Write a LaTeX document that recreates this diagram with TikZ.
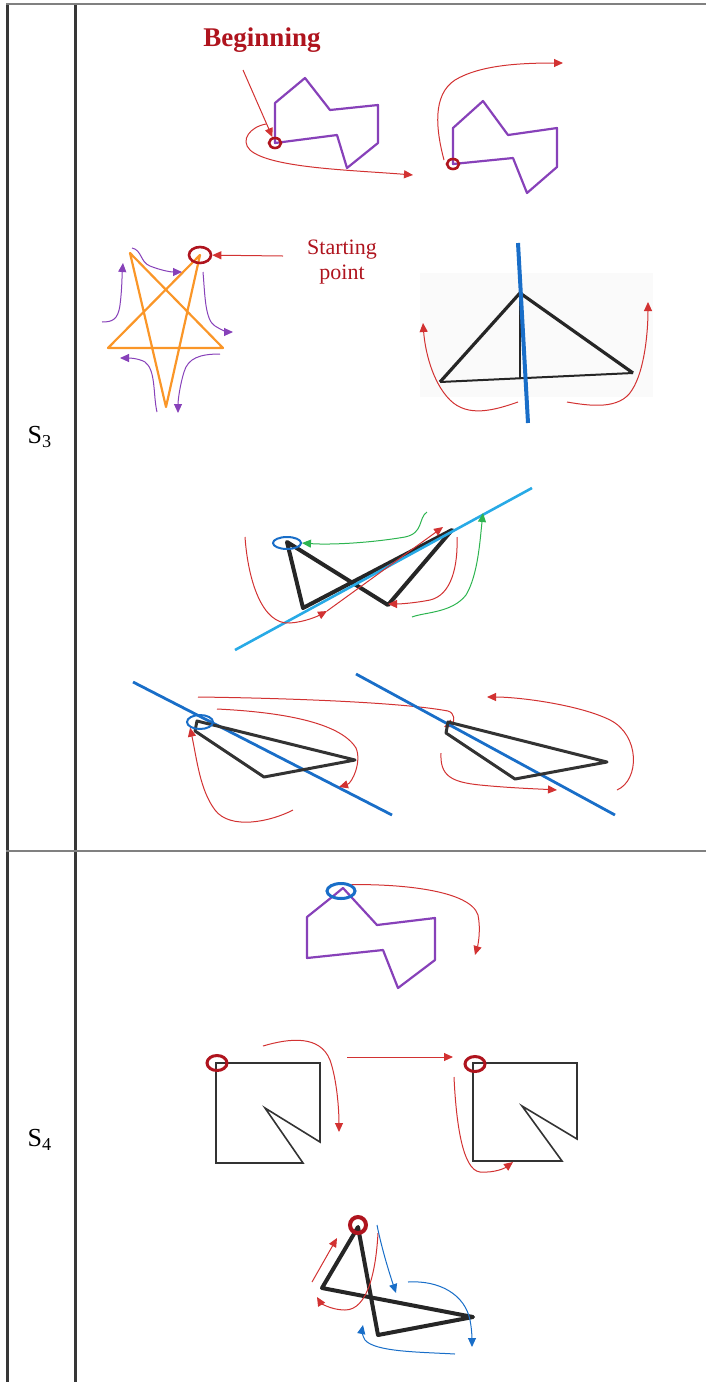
\documentclass[tikz,border=0pt]{standalone}
\usepackage{fontspec}
\setmainfont{Liberation Serif}
\usetikzlibrary{arrows.meta,shapes.geometric}
\definecolor{SketchRed}{RGB}{210,50,50}
\definecolor{RingRed}{RGB}{175,20,30}
\definecolor{PathPurple}{RGB}{135,65,185}
\definecolor{StarOrange}{RGB}{250,150,40}
\definecolor{AxisBlue}{RGB}{25,110,200}
\definecolor{SkyBlue}{RGB}{40,170,230}
\definecolor{TraceGreen}{RGB}{45,180,80}
\definecolor{RuleGray}{RGB}{55,55,55}

\begin{document}
\begin{tikzpicture}[x=0.5pt,y=-0.5pt,>={Triangle[length=4.5pt,width=4pt]},
    sketch/.style={SketchRed,line width=0.5pt},
    purplearrow/.style={PathPurple,line width=0.5pt},
    bluearrow/.style={AxisBlue,line width=0.5pt},
    greenarrow/.style={TraceGreen,line width=0.5pt},
    poly/.style={PathPurple,line width=1.1pt,line join=round},
    heavy/.style={black!85,line width=1.6pt,line join=round},
    thin/.style={black!80,line width=0.8pt,line join=miter},
    ring/.style={draw,ellipse,inner sep=0pt,line width=1.3pt}]
  \useasboundingbox (0,0) rectangle (706,1382);
  % table frame
  \draw[line width=1.5pt,RuleGray] (7,3)--(7,1382);
  \draw[line width=1.5pt,RuleGray] (75,3)--(75,1382);
  \draw[line width=1pt,gray] (6,4)--(706,4);
  \draw[line width=1pt,gray] (6,851)--(706,851);
  \node[font=\fontsize{13}{15}\selectfont] (s3) at (40,437) {S\textsubscript{3}};
  \node[font=\fontsize{13}{15}\selectfont] (s4) at (40,1140) {S\textsubscript{4}};

  % S3: two purple polygons
  \node[RingRed,font=\bfseries\fontsize{13.5}{15}\selectfont] (begin) at (262,40) {Beginning};
  \draw[poly] (275,143)--(275,103)--(305,78)--(330,110)--(378,105)--(378,143)--(347,168)--(337,135)--cycle;
  \node[ring,RingRed,minimum width=6pt,minimum height=5pt] (o1) at (275,143) {};
  \coordinate (b0) at (243,70);
  \draw[->,sketch] (b0)--(o1);
  \draw[->,sketch] (266,124) .. controls (250,127) and (240,140) .. (250,150) .. controls (270,168) and (350,170) .. (413,175);
  \draw[poly] (453,164)--(453,128)--(483,101)--(508,135)--(557,128)--(557,167)--(527,193)--(513,158)--cycle;
  \node[ring,RingRed,minimum width=6pt,minimum height=5pt] (o2) at (453,164) {};
  \draw[->,sketch] (444,160) .. controls (436,130) and (432,95) .. (455,80) .. controls (480,65) and (520,63) .. (563,63);

  % star
  \coordinate (tl) at (130,253);
  \coordinate (tr) at (200,255);
  \coordinate (lf) at (108,348);
  \coordinate (rt) at (223,348);
  \coordinate (bt) at (166,407);
  \draw[StarOrange,line width=1.1pt,line join=round] (tl)--(bt)--(tr)--(lf)--(rt)--cycle;
  \node[ring,RingRed,minimum width=11pt,minimum height=8pt] (o3) at (tr) {};
  \node[RingRed,align=center,font=\fontsize{11}{12.5}\selectfont] (start) at (342,262) {Starting\\point};
  \coordinate (a3) at (283,256);
  \draw[->,sketch] (a3)--(o3);
  \draw[->,purplearrow] (132,248) .. controls (142,250) and (140,262) .. (150,266) .. controls (160,270) and (170,272) .. (182,272);
  \draw[->,purplearrow] (203,272) .. controls (205,295) and (205,320) .. (215,326) .. controls (221,330) and (228,332) .. (233,332);
  \draw[->,purplearrow] (220,354) .. controls (200,354) and (188,358) .. (184,372) .. controls (180,385) and (178,400) .. (178,413);
  \draw[->,purplearrow] (157,412) .. controls (153,395) and (156,370) .. (145,362) .. controls (138,358) and (128,358) .. (120,358);
  \draw[->,purplearrow] (102,322) .. controls (112,322) and (118,320) .. (120,305) .. controls (122,290) and (122,275) .. (123,263);

  % triangle with vertical axis
  \fill[black!2] (420,273) rectangle (653,397);
  \draw[heavy] (440,382)--(520,293)--(633,373);
  \draw[black!85,line width=1pt] (440,382)--(633,373);
  \draw[black!85,line width=1.3pt] (520,293)--(520,378);
  \draw[AxisBlue,line width=2pt] (518,243)--(528,423);
  \draw[->,sketch] (518,402) .. controls (495,410) and (468,418) .. (450,400) .. controls (432,382) and (425,350) .. (423,323);
  \draw[->,sketch] (567,402) .. controls (590,406) and (620,410) .. (632,390) .. controls (645,370) and (648,330) .. (648,302);

  % bow-tie
  \draw[heavy,line width=2pt] (287,542)--(303,608)--(452,530)--(388,605)--cycle;
  \node[ring,AxisBlue,line width=1pt,minimum width=14pt,minimum height=6pt] (o4) at (287,543) {};
  \draw[SkyBlue,line width=1.3pt] (235,650)--(532,488);
  \draw[->,greenarrow] (427,512) .. controls (418,518) and (424,533) .. (405,537) .. controls (370,543) and (330,545) .. (o4.east);
  \draw[->,greenarrow] (412,617) .. controls (425,612) and (452,613) .. (466,595) .. controls (478,575) and (480,540) .. (483,513);
  \draw[->,sketch] (245,537) .. controls (248,580) and (262,625) .. (290,623) .. controls (305,622) and (318,616) .. (327,611);
  \draw[->,sketch] (327,611)--(443,527);
  \draw[->,sketch] (457,537) .. controls (458,565) and (452,595) .. (430,600) .. controls (415,603) and (400,604) .. (388,604);

  % two triangles with slanted axis
  \draw[AxisBlue,line width=1.4pt] (133,682)--(392,815);
  \draw[black!80,line width=1.5pt,line join=round] (197,721)--(355,760)--(264,777)--(195,731)--cycle;
  \node[ring,AxisBlue,line width=1pt,minimum width=13pt,minimum height=7pt] (o5) at (200,722) {};
  \draw[->,sketch] (198,697) .. controls (280,698) and (400,702) .. (448,711) .. controls (455,713) and (455,722) .. (444,727);
  \draw[->,sketch] (217,709) .. controls (280,712) and (340,722) .. (356,748) .. controls (362,762) and (352,783) .. (339,787);
  \draw[->,sketch] (293,810) .. controls (270,822) and (230,830) .. (215,810) .. controls (200,790) and (197,760) .. (o5.south west);
  \draw[AxisBlue,line width=1.4pt] (356,674)--(615,815);
  \draw[black!80,line width=1.5pt,line join=round] (448,722)--(607,762)--(515,779)--(446,733)--cycle;
  \draw[->,sketch] (441,753) .. controls (440,775) and (450,782) .. (480,785) .. controls (510,788) and (540,789) .. (557,790);
  \draw[->,sketch] (617,790) .. controls (640,780) and (640,735) .. (610,720) .. controls (580,705) and (520,697) .. (487,697);

  % S4: purple polygon
  \draw[poly] (343,888)--(377,925)--(435,918)--(435,960)--(398,988)--(383,950)--(307,958)--(307,917)--(332,897)--cycle;
  \node[ring,AxisBlue,line width=1.5pt,minimum width=14pt,minimum height=7.5pt] (o6) at (341,891) {};
  \draw[->,sketch] (o6.north east) .. controls (400,884) and (470,890) .. (478,915) .. controls (481,930) and (478,945) .. (475,955);

  % squares with notch
  \draw[thin] (216,1063)--(320,1063)--(320,1142)--(265,1108)--(303,1163)--(216,1163)--cycle;
  \node[ring,RingRed,line width=1.5pt,minimum width=10pt,minimum height=7.5pt] (o7) at (217,1063) {};
  \draw[->,sketch] (263,1046) .. controls (290,1038) and (320,1035) .. (330,1060) .. controls (337,1080) and (339,1110) .. (339,1132);
  \draw[thin] (473,1063)--(577,1063)--(577,1139)--(522,1106)--(562,1161)--(473,1161)--cycle;
  \node[ring,RingRed,line width=1.5pt,minimum width=10pt,minimum height=7.5pt] (o8) at (475,1064) {};
  \draw[->,sketch] (347,1057)--(453,1057);
  \draw[->,sketch] (454,1077) .. controls (456,1120) and (462,1170) .. (480,1172) .. controls (495,1173) and (505,1168) .. (513,1162);

  % crossed quadrilateral
  \draw[heavy,line width=2pt] (358,1227)--(322,1288)--(473,1317)--(378,1335)--cycle;
  \node[ring,RingRed,circle,line width=2pt,minimum size=8pt] (o9) at (358,1225) {};
  \draw[->,sketch] (312,1282)--(337,1238);
  \draw[->,sketch] (378,1233) .. controls (376,1270) and (368,1310) .. (345,1310) .. controls (330,1310) and (320,1302) .. (317,1297);
  \draw[->,bluearrow] (377,1225) .. controls (382,1250) and (390,1275) .. (396,1293);
  \draw[->,bluearrow] (408,1282) .. controls (440,1280) and (465,1295) .. (470,1320) .. controls (472,1330) and (472,1340) .. (472,1347);
  \draw[->,bluearrow] (455,1354) .. controls (420,1352) and (375,1352) .. (365,1340) .. controls (362,1335) and (362,1330) .. (363,1325);
\end{tikzpicture}
\end{document}
